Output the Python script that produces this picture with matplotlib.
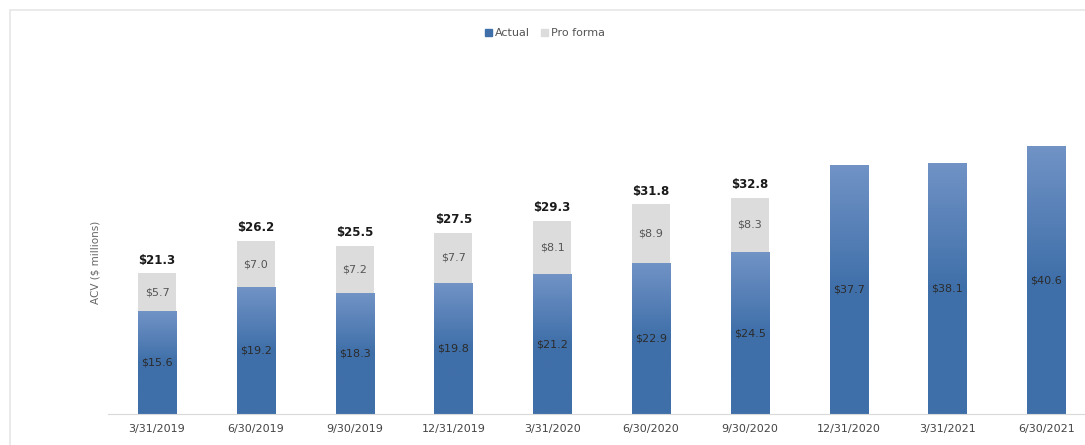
import matplotlib
matplotlib.use('Agg')
import matplotlib.pyplot as plt
import numpy as np
from matplotlib.colors import LinearSegmentedColormap
from matplotlib.patches import Rectangle, Patch

# Dados do gráfico
quarters = ['3/31/2019', '6/30/2019', '9/30/2019', '12/31/2019', '3/31/2020',
            '6/30/2020', '9/30/2020', '12/31/2020', '3/31/2021', '6/30/2021']
actual = [15.6, 19.2, 18.3, 19.8, 21.2, 22.9, 24.5, 37.7, 38.1, 40.6]
pro_forma = [5.7, 7.0, 7.2, 7.7, 8.1, 8.9, 8.3, 0, 0, 0]
totals = [21.3, 26.2, 25.5, 27.5, 29.3, 31.8, 32.8]

W, H = 1085, 445
fig = plt.figure(figsize=(W / 100, H / 100), dpi=100)

# moldura cinza clara em volta do gráfico
fig.patches.append(Rectangle((9.5 / W, -0.1), 1.2, 1 - 10.5 / H + 0.1,
                             transform=fig.transFigure, fill=False,
                             edgecolor='#e6e6e6', linewidth=1.2))

ax = fig.add_axes([107.6 / W, 31 / H, 988 / W, 363 / H])
x = np.arange(len(quarters))
width = 0.385
blue = '#3f6fa9'
grey = '#dcdcdc'

bars = ax.bar(x, actual, width, color=blue, zorder=2)
ax.bar(x, pro_forma, width, bottom=actual, color=grey, zorder=2)

# gradiente vertical nas barras azuis (mais claro no topo)
cmap = LinearSegmentedColormap.from_list('g', ['#3f6fa9', '#3f6fa9', '#7193c6'])
grad = np.linspace(0, 1, 256).reshape(-1, 1)
for b in bars:
    x0, y0, w, h = b.get_x(), b.get_y(), b.get_width(), b.get_height()
    im = ax.imshow(grad, cmap=cmap, origin='lower', aspect='auto',
                   extent=[x0, x0 + w, y0, y0 + h], zorder=3)
    im.set_clip_path(b)

for i in range(len(quarters)):
    ax.text(x[i], actual[i] / 2, f'${actual[i]:.1f}', ha='center', va='center',
            fontsize=8, color='#2b2b2b', zorder=4)
    if pro_forma[i] > 0:
        ax.text(x[i], actual[i] + pro_forma[i] / 2, f'${pro_forma[i]:.1f}',
                ha='center', va='center', fontsize=8, color='#555555', zorder=4)
for i, t in enumerate(totals):
    ax.text(x[i], t + 1.0, f'${t:.1f}', ha='center', va='bottom',
            fontsize=8.5, fontweight='bold', color='#1a1a1a')

ax.set_xlim(-0.5, len(quarters) - 0.5)
ax.set_ylim(0, 55)
ax.set_xticks(x)
ax.set_xticklabels(quarters, fontsize=8, color='#444444')
ax.tick_params(axis='x', length=0, pad=7)
ax.set_yticks([])
for s in ['top', 'right', 'left']:
    ax.spines[s].set_visible(False)
ax.spines['bottom'].set_color('#d9d9d9')
ax.spines['bottom'].set_zorder(5)

fig.text(95 / W, 1 - 262 / H, 'ACV ($ millions)', rotation=90, ha='center',
         va='center', fontsize=7.5, color='#666666')

handles = [Patch(color=blue, label='Actual'), Patch(color=grey, label='Pro forma')]
fig.legend(handles=handles, loc='center', bbox_to_anchor=(545 / W, 1 - 33 / H),
           ncol=2, frameon=False, fontsize=8, handlelength=0.6, handleheight=0.6,
           handletextpad=0.3, columnspacing=1.0, labelcolor='#555555')

fig.savefig('out.png', dpi=100)
